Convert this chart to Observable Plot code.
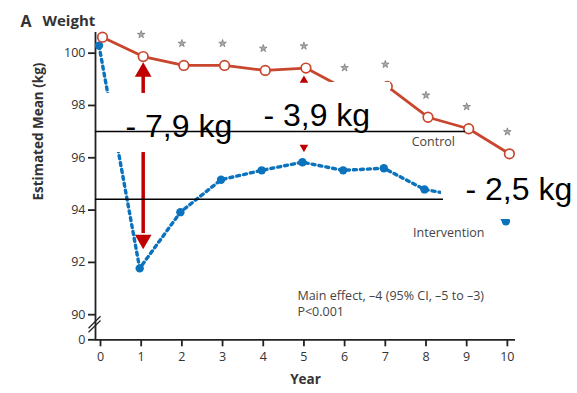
<!DOCTYPE html>
<html>
<head>
<meta charset="utf-8">
<script src="https://cdn.jsdelivr.net/npm/d3@7"></script>
<script src="https://cdn.jsdelivr.net/npm/@observablehq/plot@0.6"></script>
<style>
  html, body { margin: 0; padding: 0; background: #fff; }
  svg { display: block; }
</style>
</head>
<body>
<div id="chart"></div>
<script>
// ---- data ----
const years = [0, 1, 2, 3, 4, 5, 6, 7, 8, 9, 10];
const control = [100.61, 99.87, 99.53, 99.53, 99.34, 99.43, 98.6, 98.73, 97.55, 97.11, 96.15];
const intervention = [100.29, 91.77, 93.92, 95.16, 95.52, 95.83, 95.52, 95.6, 94.79, 94.5, 93.57];
const starYears = [1, 2, 3, 4, 5, 6, 7, 8, 9, 10];
const yTicks = [89.04, 90, 92, 94, 96, 98, 100];
const yTickLabels = ["0", "90", "92", "94", "96", "98", "100"];
const xTicks = [0, 1, 2, 3, 4, 5, 6, 7, 8, 9, 10];

// annotation overlays (in data units)
const boxX1 = [0, 3.81, 8.38];
const boxX2 = [3.44, 7.13, 11.8];
const boxY1 = [96.2, 96.66, 93.64];
const boxY2 = [98.46, 98.88, 95.71];
const diffText = ["- 7,9 kg", "- 3,9 kg", "- 2,5 kg"];
const diffX = [0.614, 4.005, 8.97];
const diffY = [97.17, 97.59, 94.76];
const refY = [97.007, 94.41];
const refX2 = [8.97, 8.43];

const ctrlData = years.map((x, i) => ({x, y: control[i]}));
const intData = years.map((x, i) => ({x, y: intervention[i]}));
const starData = starYears.map(x => ({x, y: control[x]}));
const boxes = boxX1.map((x1, i) => ({x1, x2: boxX2[i], y1: boxY1[i], y2: boxY2[i]}));
const diffs = diffText.map((t, i) => ({t, x: diffX[i], y: diffY[i]}));
const refs = refY.map((y, i) => ({y, x2: refX2[i]}));

const red = "#c8462e";
const blue = "#0b72bd";
const arrowRed = "#c00000";
const xMin = -0.123, xMax = 10.2, yMin = 89.04, yMax = 100.79;

const chart = Plot.plot({
  width: 577,
  height: 393,
  marginLeft: 95,
  marginRight: 62,
  marginTop: 32,
  marginBottom: 53.7,
  x: {domain: [xMin, xMax]},
  y: {domain: [yMin, yMax]},
  style: {fontFamily: "'Open Sans', sans-serif", fontSize: "12.5px", color: "#333", background: "#fff"},
  marks: [
    // axes
    Plot.axisX({ticks: xTicks, tickSize: 7, tickPadding: 5, tickFormat: d => d, label: null, strokeWidth: 1.8, stroke: "#222"}),
    Plot.axisY({ticks: yTicks, tickSize: 7, tickPadding: 3, tickFormat: d => yTickLabels[yTicks.indexOf(d)], label: null, strokeWidth: 1.8, stroke: "#222"}),
    Plot.ruleY([yMin], {x1: xMin, x2: xMax, stroke: "#222", strokeWidth: 1.8}),
    Plot.ruleX([xMin], {y1: yMin, y2: yMax, stroke: "#222", strokeWidth: 1.8}),
    // axis break marks
    Plot.link([{a: -0.295, b: 89.48, c: 0, d: 89.94}, {a: -0.295, b: 89.33, c: 0, d: 89.78}],
      {x1: "a", y1: "b", x2: "c", y2: "d", stroke: "#222", strokeWidth: 1.2}),
    // intervention
    Plot.line(intData, {x: "x", y: "y", dx: -1.5, stroke: blue, strokeWidth: 3.4, strokeDasharray: "3,4"}),
    Plot.dot(intData, {x: "x", y: "y", dx: -1.5, r: 4.2, fill: blue}),
    // control
    Plot.line(ctrlData, {x: "x", y: "y", dx: 2, stroke: red, strokeWidth: 2.8}),
    Plot.dot(ctrlData, {x: "x", y: "y", dx: 2, r: 4.8, fill: "white", stroke: red, strokeWidth: 1.7}),
    // stars
    Plot.dot(starData, {x: "x", y: "y", dy: -22, symbol: "star", r: 2.4, fill: "#aaa", stroke: "#666", strokeWidth: 0.6}),
    // big arrow at year 1
    Plot.ruleX([{x: 1, y1: 93.1, y2: 99.15}], {x: "x", y1: "y1", y2: "y2", dx: 2, stroke: arrowRed, strokeWidth: 3.5}),
    Plot.dot([{x: 1, y: 99.285}], {x: "x", y: "y", dx: 2, symbol: "triangle", r: 6.2, fill: arrowRed}),
    Plot.dot([{x: 1, y: 92.87}], {x: "x", y: "y", dx: 2, symbol: "triangle", r: 6.2, rotate: 180, fill: arrowRed}),
    // white overlay boxes
    Plot.rect(boxes, {x1: "x1", x2: "x2", y1: "y1", y2: "y2", fill: "white"}),
    // small triangles at year 5
    Plot.dot([{x: 5, y: 98.96}], {x: "x", y: "y", symbol: "triangle", r: 3.2, fill: arrowRed}),
    Plot.dot([{x: 5, y: 96.4}], {x: "x", y: "y", symbol: "triangle", r: 3.2, rotate: 180, fill: arrowRed}),
    // reference lines
    Plot.ruleY(refs, {y: "y", x1: xMin, x2: "x2", stroke: "black", strokeWidth: 1.5}),
    // diff labels
    Plot.text(diffs, {x: "x", y: "y", text: "t", textAnchor: "start", fontSize: 32, fontFamily: "'Liberation Sans', Arial, sans-serif", fill: "black"}),
    // series labels
    Plot.text([{x: 8.18, y: 96.62, t: "Control"}, {x: 8.56, y: 93.14, t: "Intervention"}], {x: "x", y: "y", text: "t", fontSize: 12.5, fill: "#444"}),
    // stats text
    Plot.text([{x: 4.84, y: 90.7, t: "Main effect, \u20134 (95% CI, \u20135 to \u20133)"}, {x: 4.84, y: 90.09, t: "P<0.001"}],
      {x: "x", y: "y", text: "t", textAnchor: "start", fontSize: 12.5, fill: "#444"}),
    // titles
    Plot.text(["A"], {frameAnchor: "top-left", dx: -75, dy: -17, textAnchor: "start", fontSize: 16, fontWeight: 700, fill: "#333"}),
    Plot.text(["Weight"], {frameAnchor: "top-left", dx: -53, dy: -17, textAnchor: "start", fontSize: 15, fontWeight: 700, fill: "#333"}),
    Plot.text(["Estimated Mean (kg)"], {frameAnchor: "left", dx: -57, dy: 14.4, rotate: -90, fontSize: 13.5, fontWeight: 700, fill: "#333"}),
    Plot.text(["Year"], {frameAnchor: "bottom", dy: 43.7, fontSize: 13.5, fontWeight: 700, fill: "#333"})
  ]
});
document.getElementById("chart").appendChild(chart);
</script>
</body>
</html>
